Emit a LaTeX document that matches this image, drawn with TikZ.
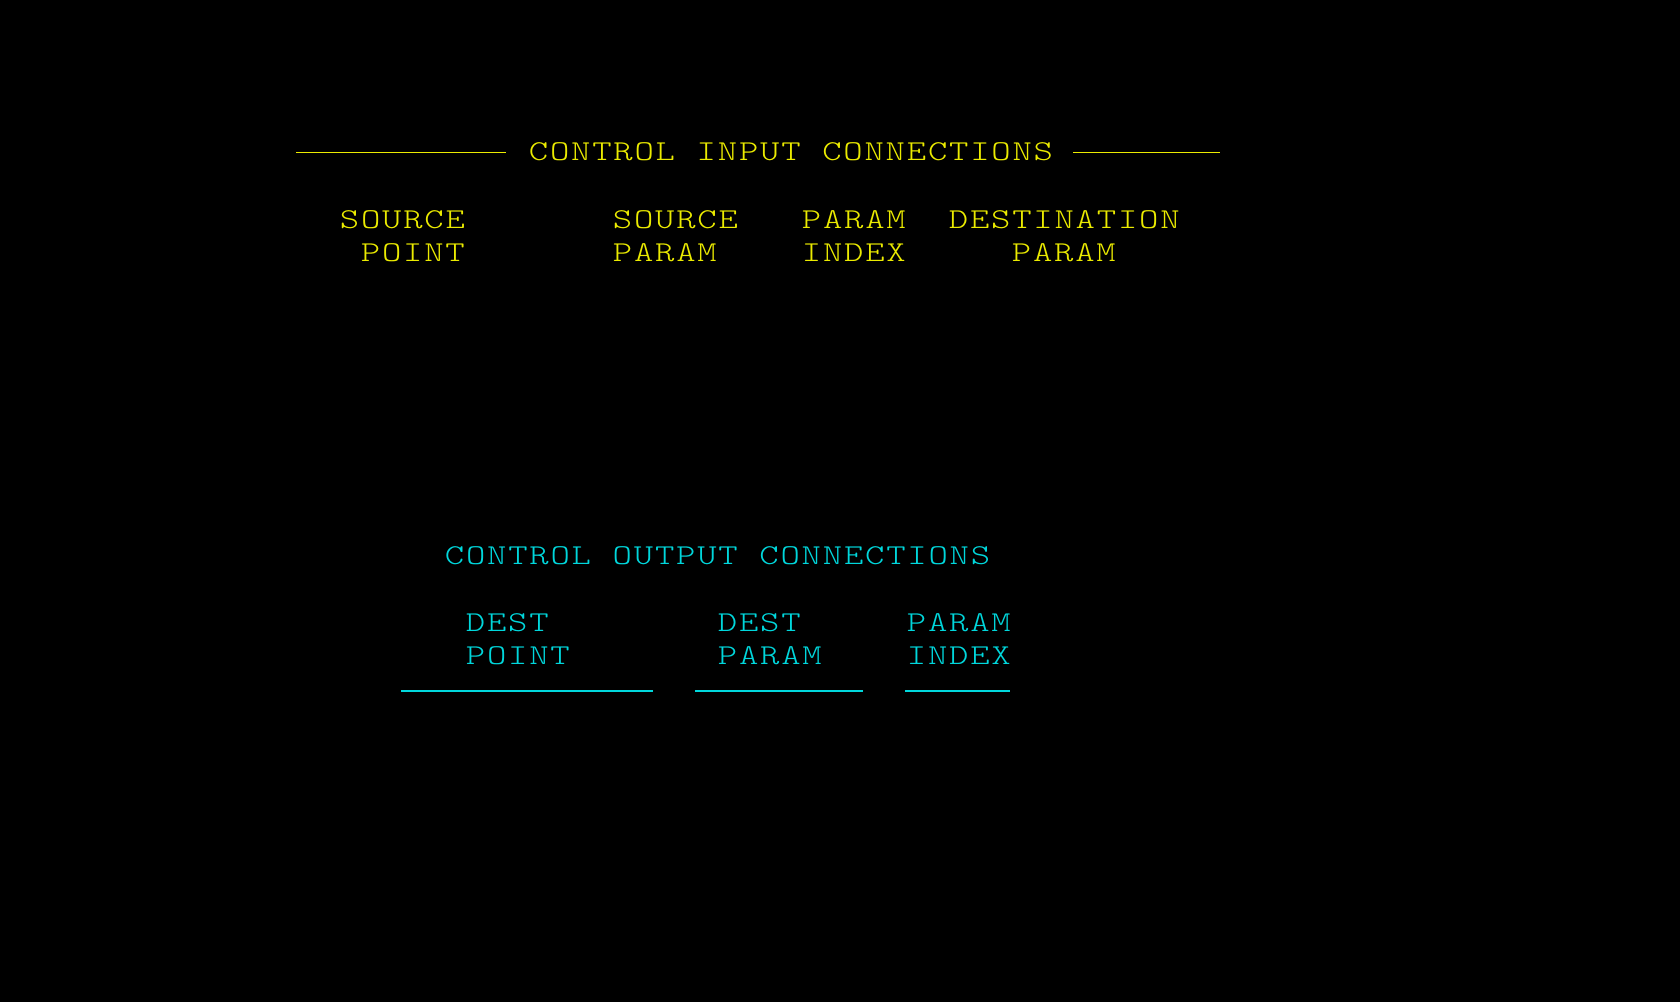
\documentclass[tikz,border=0pt]{standalone}
\usepackage{fontspec}
\usepackage{tikz}
\usetikzlibrary{positioning}
\newfontfamily\crtfont{Latin Modern Mono Light}[FakeStretch=1.28, LetterSpace=6.2, WordSpace=1.025]
\definecolor{crtyellow}{RGB}{235,235,0}
\definecolor{crtcyan}{RGB}{0,215,220}
\tikzset{
        screentext/.style={inner sep=0pt, anchor=base west, xshift=0.75pt,
            font=\crtfont\fontsize{14.4pt}{16pt}\selectfont},
        intext/.style={screentext, text=crtyellow},
        outtext/.style={screentext, text=crtcyan},
        inrule/.style={draw=crtyellow, line width=0.7pt},
        outrule/.style={draw=crtcyan, line width=0.7pt},
    }
\begin{document}
\begin{tikzpicture}[x = 10.5pt, y = -16.8pt]
                % screen, one unit is one character cell
                \path[fill=black] (-338/21,-228/33.6) rectangle (1342/21,774/33.6);
                % input block
                \node[intext] (intitle) at (9,-2) {CONTROL INPUT CONNECTIONS};
                \draw[inrule] (-2,-2.253) -- (8,-2.253);
                \draw[inrule] (35,-2.253) -- (42,-2.253);
                \foreach \name/\col/\top in {srcpt/0/SOURCE, srcpar/13/SOURCE,
                    paridx/22/PARAM, dstpar/29/DESTINATION}
                {
                    \node[intext] (\name top) at (\col,0) {\top};
                }
                \node[intext] (srcptbot) at (1,1) {POINT};
                \node[intext] (srcparbot) at (13,1) {PARAM};
                \node[intext] (paridxbot) at (22,1) {INDEX};
                \node[intext] (dstparbot) at (32,1) {PARAM};
                % output block
                \node[outtext] (outtitle) at (5,10) {CONTROL OUTPUT CONNECTIONS};
                \foreach \name/\col/\top/\bottom/\start/\len in {dstpt/6/DEST/POINT/3/12,
                    dstpar/18/DEST/PARAM/17/8, paridx/27/PARAM/INDEX/27/5}
                {
                    \node[outtext] (out\name top) at (\col,12) {\top};
                    \node[outtext] (out\name bot) at (\col,13) {\bottom};
                    \draw[outrule] (\start,13.78) -- ++(\len,0);
                }
\end{tikzpicture}
\end{document}
